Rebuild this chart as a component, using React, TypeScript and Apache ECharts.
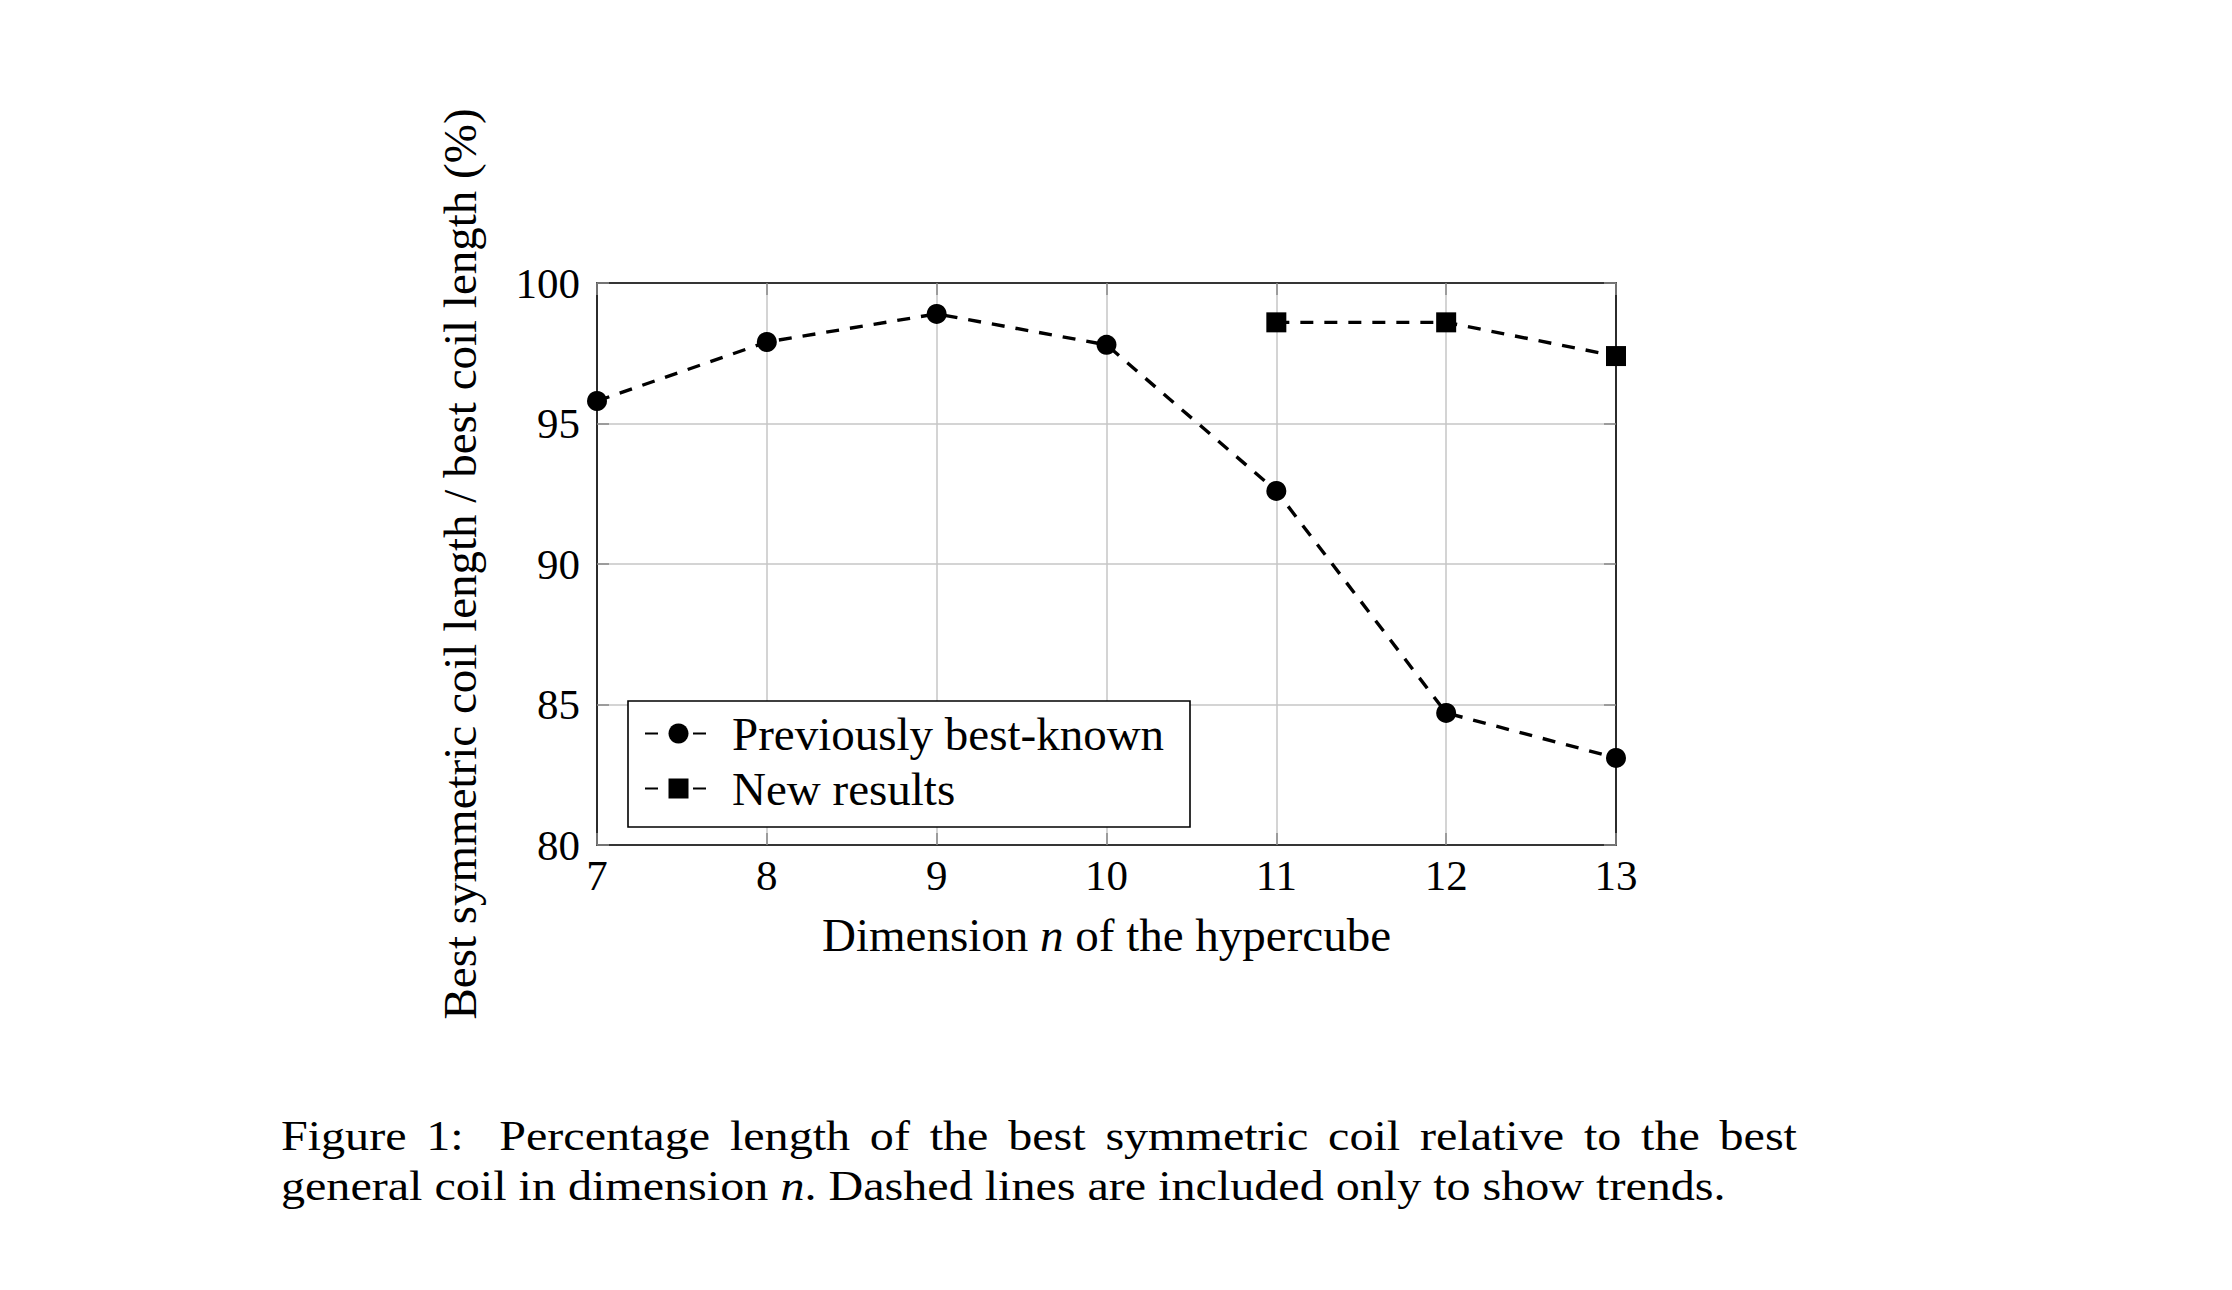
import React, { useEffect, useRef } from "react";
import * as echarts from "echarts";

// ---- data ----
const dimensions = [7, 8, 9, 10, 11, 12, 13];
const previousBest = [95.8, 97.9, 98.9, 97.8, 92.6, 84.7, 83.1];
const newDimensions = [11, 12, 13];
const newResults = [98.6, 98.6, 97.4];
const xTickMin = 7;
const xTickMax = 13;
const xTickStep = 1;
const yTickMin = 80;
const yTickMax = 100;
const yTickStep = 5;
const seriesNames = ["Previously best-known", "New results"];
const xTitle = "Dimension {i|n} of the hypercube";
const yTitle = "Best symmetric coil length / best coil length (%)";
const captionLine1Words = ["Figure", "1:", "Percentage", "length", "of", "the", "best", "symmetric", "coil", "relative", "to", "the", "best"];
const captionLine2 = "general coil in dimension {i|n}. Dashed lines are included only to show trends.";
const captionLine2Plain = "general coil in dimension n. Dashed lines are included only to show trends.";

const FF = '"Liberation Serif", "Times New Roman", serif';

function measure(text: string, size: number): number {
  const c = document.createElement("canvas").getContext("2d");
  if (!c) return text.length * size * 0.45;
  c.font = `${size}px "Liberation Serif"`;
  return c.measureText(text).width;
}

export default function App() {
  const ref = useRef<HTMLDivElement>(null);

  useEffect(() => {
    document.body.style.margin = "0";
    const chart = echarts.init(ref.current as HTMLDivElement, null, { renderer: "svg" });

    // legend right padding so the box ends where the reference box ends
    const legendFont = 47;
    const legendTextW = measure(seriesNames[0], legendFont);
    const legendLeft = 628;
    const legendPadLeft = 16;
    const iconW = 67;
    const textPadLeft = 15;
    const textStart = legendLeft + legendPadLeft + iconW + 5 + textPadLeft;
    const padRight = Math.max(8, 1189 - (textStart + legendTextW));

    // caption: CM-like width via horizontal scale, line 1 justified
    const capSize = 42;
    const capLeft = 281;
    const capRight = 1797;
    const line2Target = 1445;
    const sx = line2Target / measure(captionLine2Plain, capSize);
    const widths = captionLine1Words.map((w) => measure(w, capSize) * sx);
    const totalW = widths.reduce((a, b) => a + b, 0);
    const weights = captionLine1Words.slice(0, -1).map((w) => (w.endsWith(":") ? 1.8 : 1));
    const weightSum = weights.reduce((a, b) => a + b, 0);
    const unitGap = (capRight - capLeft - totalW) / weightSum;
    let cx = capLeft;
    const capMid = 0.3375 * capSize;
    const captionElements: any[] = captionLine1Words.map((w, i) => {
      const el = {
        type: "text",
        x: cx,
        y: 1150 - capMid,
        scaleX: sx,
        silent: true,
        style: {
          text: w,
          fontSize: capSize,
          fontFamily: FF,
          fill: "#000",
          textAlign: "left",
          textVerticalAlign: "middle",
          align: "left",
          verticalAlign: "middle",
        },
      };
      cx += widths[i] + (i < weights.length ? weights[i] * unitGap : 0);
      return el;
    });
    captionElements.push({
      type: "text",
      x: capLeft,
      y: 1200 - capMid,
      scaleX: sx,
      silent: true,
      style: {
        text: captionLine2,
        fontSize: capSize,
        fontFamily: FF,
        fill: "#000",
        textAlign: "left",
        textVerticalAlign: "middle",
        align: "left",
        verticalAlign: "middle",
        rich: {
          i: { fontStyle: "italic", fontSize: capSize, fontFamily: FF, fill: "#000", color: "#000" },
        },
      },
    });

    const frameLine = { color: "#000", width: 1.6 };
    const tickStyle = { show: true, inside: true, length: 12, lineStyle: { color: "#8a8a8a", width: 1.5 } };
    const gridLine = { show: true, lineStyle: { color: "#c6c6c6", width: 1.5 } };
    const dash = { color: "#000", width: 3.4, type: [13, 11] };

    const option: any = {
      animation: false,
      backgroundColor: "#fff",
      textStyle: { fontFamily: FF },
      grid: { left: 597, top: 283, width: 1019, height: 562 },
      legend: {
        data: seriesNames,
        orient: "vertical",
        left: legendLeft,
        top: 701,
        padding: [5, padRight, 11, legendPadLeft],
        itemGap: 0,
        itemWidth: iconW,
        itemHeight: 25,
        backgroundColor: "#fff",
        borderColor: "#000",
        borderWidth: 1.6,
        borderRadius: 0,
        selectedMode: false,
        textStyle: {
          fontSize: legendFont,
          lineHeight: 55,
          color: "#000",
          fontFamily: FF,
          padding: [0, 0, 0, textPadLeft],
        },
      },
      xAxis: [
        {
          type: "value",
          position: "bottom",
          min: xTickMin,
          max: xTickMax,
          interval: xTickStep,
          axisLine: { show: true, onZero: false, lineStyle: frameLine },
          axisTick: tickStyle,
          splitLine: gridLine,
          axisLabel: { show: true, fontSize: 43, color: "#000", fontFamily: FF, margin: 9 },
          name: xTitle,
          nameLocation: "middle",
          nameGap: 66,
          nameTextStyle: {
            fontSize: 47,
            color: "#000",
            fontFamily: FF,
            rich: { i: { fontStyle: "italic", fontSize: 47, color: "#000", fontFamily: FF } },
          },
        },
        {
          type: "value",
          position: "top",
          min: xTickMin,
          max: xTickMax,
          interval: xTickStep,
          axisLine: { show: true, onZero: false, lineStyle: frameLine },
          axisTick: tickStyle,
          splitLine: { show: false },
          axisLabel: { show: false },
        },
      ],
      yAxis: [
        {
          type: "value",
          position: "left",
          min: yTickMin,
          max: yTickMax,
          interval: yTickStep,
          axisLine: { show: true, onZero: false, lineStyle: frameLine },
          axisTick: tickStyle,
          splitLine: gridLine,
          axisLabel: { show: true, fontSize: 43, color: "#000", fontFamily: FF, margin: 17 },
          name: yTitle,
          nameLocation: "middle",
          nameGap: 114,
          nameTextStyle: { fontSize: 47, color: "#000", fontFamily: FF },
        },
        {
          type: "value",
          position: "right",
          min: yTickMin,
          max: yTickMax,
          interval: yTickStep,
          axisLine: { show: true, onZero: false, lineStyle: frameLine },
          axisTick: tickStyle,
          splitLine: { show: false },
          axisLabel: { show: false },
        },
      ],
      series: [
        {
          type: "line",
          name: seriesNames[0],
          xAxisIndex: 0,
          yAxisIndex: 0,
          data: dimensions.map((d, i) => [d, previousBest[i]]),
          symbol: "circle",
          symbolSize: 20,
          clip: false,
          z: 5,
          lineStyle: dash,
          itemStyle: { color: "#000" },
          emphasis: { disabled: true },
        },
        {
          type: "line",
          name: seriesNames[1],
          xAxisIndex: 0,
          yAxisIndex: 0,
          data: newDimensions.map((d, i) => [d, newResults[i]]),
          symbol: "rect",
          symbolSize: 20,
          clip: false,
          z: 5,
          lineStyle: dash,
          itemStyle: { color: "#000" },
          emphasis: { disabled: true },
        },
      ],
      graphic: captionElements,
    };

    chart.setOption(option);
    return () => chart.dispose();
  }, []);

  return (
    <div
      ref={ref}
      style={{ position: "fixed", left: 0, top: 0, width: 2232, height: 1290, background: "#fff" }}
    />
  );
}
